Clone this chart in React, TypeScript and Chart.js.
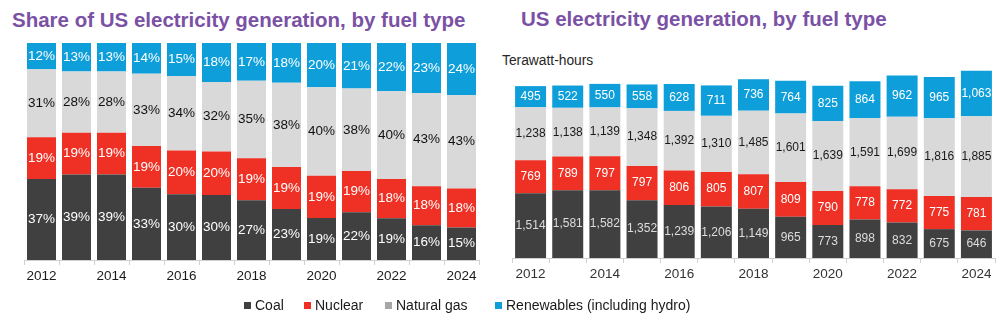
import React, { useEffect, useRef } from "react";
import { Chart, registerables } from "chart.js";

Chart.register(...registerables);

const years = ["2012", "2013", "2014", "2015", "2016", "2017", "2018", "2019", "2020", "2021", "2022", "2023", "2024"];

// Share of generation (%), as labelled
const coalShare = [37, 39, 39, 33, 30, 30, 27, 23, 19, 22, 19, 16, 15];
const nuclearShare = [19, 19, 19, 19, 20, 20, 19, 19, 19, 19, 18, 18, 18];
const gasShare = [31, 28, 28, 33, 34, 32, 35, 38, 40, 38, 40, 43, 43];
const renewShare = [12, 13, 13, 14, 15, 18, 17, 18, 20, 21, 22, 23, 24];

// Generation (TWh)
const coalTWh = [1514, 1581, 1582, 1352, 1239, 1206, 1149, 965, 773, 898, 832, 675, 646];
const nuclearTWh = [769, 789, 797, 797, 806, 805, 807, 809, 790, 778, 772, 775, 781];
const gasTWh = [1238, 1138, 1139, 1348, 1392, 1310, 1485, 1601, 1639, 1591, 1699, 1816, 1885];
const renewTWh = [495, 522, 550, 558, 628, 711, 736, 764, 825, 864, 962, 965, 1063];

const seriesNames = ["Coal", "Nuclear", "Natural gas", "Renewables (including hydro)"];
const barColors = ["#404040", "#EE3124", "#D9D9D9", "#0E9FDA"];
const legendColors = ["#404040", "#EE3124", "#A6A6A6", "#0E9FDA"];

const FONT = "'Liberation Sans', Arial, sans-serif";
const PURPLE = "#7A51A5";

type LabelCfg = { texts: string[][]; colors: string[]; size: number };

const labelPlugin = {
  id: "segLabels",
  afterDatasetsDraw(chart: any) {
    const cfg: LabelCfg = chart.options.plugins.segLabels;
    if (!cfg) return;
    const ctx = chart.ctx;
    ctx.save();
    ctx.textAlign = "center";
    ctx.textBaseline = "middle";
    ctx.font = `${cfg.size}px ${FONT}`;
    chart.data.datasets.forEach((ds: any, di: number) => {
      const meta = chart.getDatasetMeta(di);
      meta.data.forEach((el: any, i: number) => {
        const p = el.getProps(["x", "y", "base"], true);
        ctx.fillStyle = cfg.colors[di];
        ctx.fillText(cfg.texts[di][i], p.x, (p.y + p.base) / 2);
      });
    });
    ctx.restore();
  },
};

function makeConfig(
  data: number[][],
  yMax: number,
  barPct: number,
  padding: any,
  tickColor: string,
  labels: LabelCfg
): any {
  return {
    type: "bar",
    data: {
      labels: years,
      datasets: data.map((d, i) => ({
        label: seriesNames[i],
        data: d,
        backgroundColor: barColors[i],
        borderWidth: 0,
        barPercentage: barPct,
        categoryPercentage: 1,
      })),
    },
    options: {
      responsive: true,
      maintainAspectRatio: false,
      animation: false,
      layout: { padding },
      plugins: {
        legend: { display: false },
        title: { display: false },
        tooltip: { enabled: false },
        segLabels: labels,
      },
      scales: {
        x: {
          stacked: true,
          afterFit: (scale: any) => {
            scale.height = 30;
          },
          grid: {
            display: true,
            drawOnChartArea: false,
            drawTicks: true,
            tickLength: 5,
            color: "#D0D0D0",
            offset: true,
          },
          border: { display: true, color: "#D0D0D0" },
          ticks: {
            autoSkip: false,
            maxRotation: 0,
            padding: 3,
            color: tickColor,
            font: { family: FONT, size: 13.5 },
            callback: (_v: any, i: number) => (i % 2 === 0 ? years[i] : ""),
          },
        },
        y: { stacked: true, display: false, min: 0, max: yMax },
      },
    },
    plugins: [labelPlugin],
  };
}

function ChartCanvas({ config, style }: { config: any; style: React.CSSProperties }) {
  const ref = useRef<HTMLCanvasElement | null>(null);
  useEffect(() => {
    if (!ref.current) return;
    const chart = new Chart(ref.current, config);
    return () => chart.destroy();
  }, []);
  return (
    <div style={{ position: "absolute", ...style }}>
      <canvas ref={ref} />
    </div>
  );
}

export default function App() {
  useEffect(() => {
    document.body.style.margin = "0";
  }, []);

  const shares = [coalShare, nuclearShare, gasShare, renewShare];
  const shareTotals = years.map((_, i) => shares.reduce((s, a) => s + a[i], 0));
  const shareHeights = shares.map((a) => a.map((v, i) => (v / shareTotals[i]) * 100));

  const leftCfg = makeConfig(
    shareHeights,
    100,
    29 / 35,
    { left: 24, right: 11, top: 43, bottom: 10 },
    "#1A1A1A",
    {
      texts: shares.map((a) => a.map((v) => `${v}%`)),
      colors: ["#FFFFFF", "#FFFFFF", "#111111", "#FFFFFF"],
      size: 13.5,
    }
  );

  const twh = [coalTWh, nuclearTWh, gasTWh, renewTWh];
  const rightCfg = makeConfig(
    twh,
    5000,
    31 / 37.17,
    { left: 17, right: 5, top: 44, bottom: 12 },
    "#333333",
    {
      texts: twh.map((a) => a.map((v) => v.toLocaleString("en-US"))),
      colors: ["#DDDDDD", "#FFFFFF", "#1A1A1A", "#FFFFFF"],
      size: 12,
    }
  );

  const legendLefts = [244, 304, 385, 495];

  return (
    <div
      style={{
        position: "relative",
        width: 1000,
        height: 326,
        overflow: "hidden",
        background: "#FFFFFF",
        fontFamily: FONT,
      }}
    >
      <div
        style={{
          position: "absolute",
          left: 12,
          top: 9.6,
          fontSize: 20.5,
          lineHeight: "20.5px",
          fontWeight: "bold",
          color: PURPLE,
          whiteSpace: "nowrap",
        }}
      >
        Share of US electricity generation, by fuel type
      </div>
      <div
        style={{
          position: "absolute",
          left: 521,
          top: 8.6,
          fontSize: 20.5,
          lineHeight: "20.5px",
          fontWeight: "bold",
          color: PURPLE,
          whiteSpace: "nowrap",
        }}
      >
        US electricity generation, by fuel type
      </div>
      <div
        style={{
          position: "absolute",
          left: 502,
          top: 53,
          fontSize: 13.8,
          lineHeight: "16px",
          color: "#262626",
          whiteSpace: "nowrap",
        }}
      >
        Terawatt-hours
      </div>

      <ChartCanvas config={leftCfg} style={{ left: 0, top: 0, width: 490, height: 300 }} />
      <ChartCanvas config={rightCfg} style={{ left: 495, top: 0, width: 505, height: 300 }} />

      {seriesNames.map((name, i) => (
        <div
          key={name}
          style={{
            position: "absolute",
            left: legendLefts[i],
            top: 296,
            height: 18,
            display: "flex",
            alignItems: "center",
            fontSize: 14,
            color: "#1A1A1A",
            whiteSpace: "nowrap",
          }}
        >
          <span
            style={{
              display: "inline-block",
              width: 7,
              height: 7,
              background: legendColors[i],
              marginRight: 4,
            }}
          />
          {name}
        </div>
      ))}
    </div>
  );
}
